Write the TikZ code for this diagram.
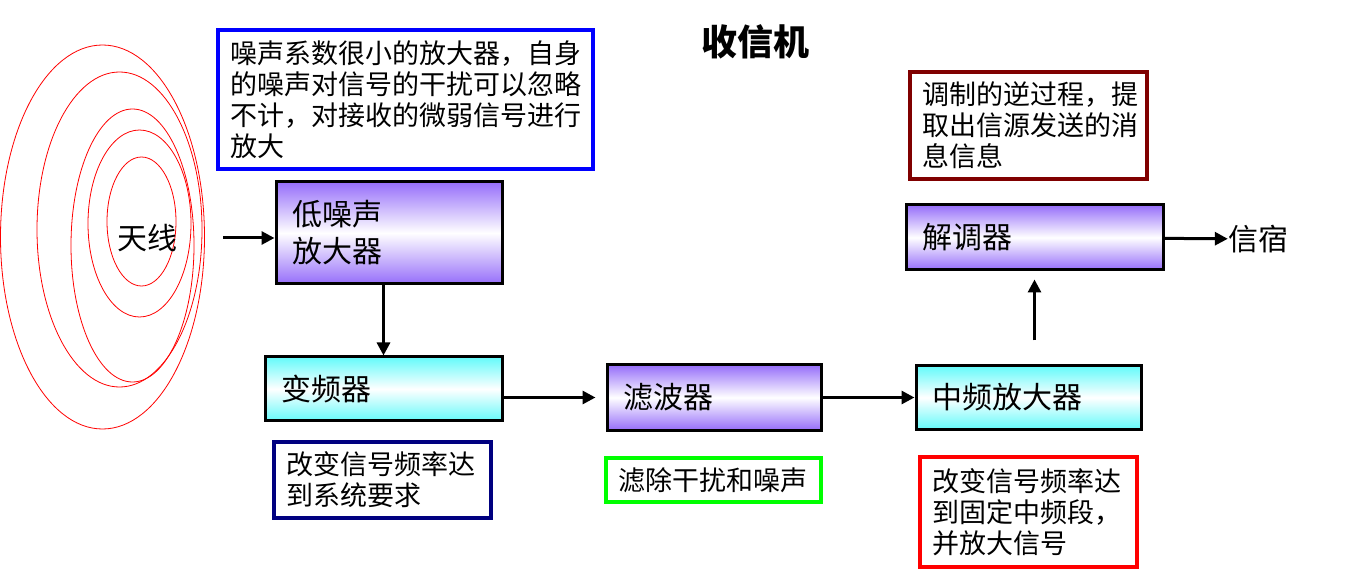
\documentclass[tikz,border=0pt]{standalone}
\usepackage{fontspec}
\newfontfamily\cjk{Noto Sans CJK SC}
\usepackage{tikz}
\usetikzlibrary{positioning,arrows.meta}

\definecolor{boxpurple}{RGB}{150,110,250}
\definecolor{boxcyan}{RGB}{100,250,250}
\definecolor{noteblue}{RGB}{0,0,255}
\definecolor{notedarkred}{RGB}{128,0,0}
\definecolor{notenavy}{RGB}{0,0,128}
\definecolor{notegreen}{RGB}{0,255,0}
\definecolor{notered}{RGB}{255,0,0}

\begin{document}
\begin{tikzpicture}[x=1pt,y=-1pt,>={Triangle[length=13pt,width=13pt]},
    block/.style={draw=black,line width=3pt,inner xsep=16pt,inner ysep=0pt,align=left,font=\cjk\fontsize{30}{37}\selectfont},
    purpbox/.style={block,top color=boxpurple,bottom color=boxpurple,middle color=white},
    cyanbox/.style={block,top color=boxcyan,bottom color=boxcyan,middle color=white},
    note/.style={draw=#1,line width=3.5pt,fill=white,inner xsep=12pt,inner ysep=0pt,align=left,font=\cjk\fontsize{27}{31}\selectfont},
    plain/.style={inner sep=0pt,font=\cjk\fontsize{30}{36}\selectfont},
    wave/.style={draw=red,line width=0.8pt},
    sig/.style={->,draw=black,line width=3pt}]

    \useasboundingbox (0,0) rectangle (1361,577);

    % The antenna
    \path[wave] (102.5,237) ellipse [x radius=102,y radius=192];
    \path[wave] (119.5,229.5) ellipse [x radius=82.5,y radius=157.5];
    \path[wave] (132.5,245.5) ellipse [x radius=61.5,y radius=136.5];
    \path[wave] (139.5,223.5) ellipse [x radius=51.5,y radius=93.5];
    \path[wave] (141.5,221.5) ellipse [x radius=34.5,y radius=64.5];
    \node [plain] at (147,238) (ant) {天线};

    % The title
    \node [inner sep=0pt,font=\cjk\bfseries\fontsize{36}{40}\selectfont] at (755,42) (title) {收信机};

    % The blocks
    \node [purpbox,text width=194pt,minimum height=102pt] at (389,233) (lna) {低噪声\\放大器};
    \node [cyanbox,text width=205pt,minimum height=64pt] at (383.5,389) (mix) {变频器};
    \node [purpbox,text width=182pt,minimum height=65pt] at (714,397.5) (filt) {滤波器};
    \node [cyanbox,text width=193pt,minimum height=63pt] at (1028.5,397.5) (ifa) {中频放大器};
    \node [purpbox,text width=225pt,minimum height=65pt] at (1034.5,237.5) (demod) {解调器};
    \node [plain] at (1258,239) (sink) {信宿};

    % The notes
    \node [note=noteblue,text width=351pt,minimum height=139pt] at (405.5,99.5) (lnanote)
        {噪声系数很小的放大器，自身\\的噪声对信号的干扰可以忽略\\不计，对接收的微弱信号进行\\放大};
    \node [note=notedarkred,text width=213pt,minimum height=107pt] at (1028.5,125.5) (demodnote)
        {调制的逆过程，提\\取出信源发送的消\\息信息};
    \node [note=notenavy,text width=193pt,minimum height=76pt] at (382.5,480) (mixnote)
        {改变信号频率达\\到系统要求};
    \node [note=notegreen,text width=191pt,minimum height=44pt] at (713.5,480) (filtnote)
        {滤除干扰和噪声};
    \node [note=notered,text width=193pt,minimum height=110pt] at (1028.5,512) (ifanote)
        {改变信号频率达\\到固定中频段，\\并放大信号};

    % Signal path
    \path
    (ant.east) edge[sig,shorten <=46pt] (ant.east -| lna.west)
    (lna.south -| mix.north) edge[sig] (mix.north)
    (mix.east |- filt.west) edge[sig,shorten >=10pt] (filt.west)
    (filt) edge[sig] (ifa);

    \path
    (ifa.north -| demod.south) edge[sig,shorten <=24pt,shorten >=8pt] (demod.south)
    (demod) edge[sig] (sink);

\end{tikzpicture}
\end{document}
